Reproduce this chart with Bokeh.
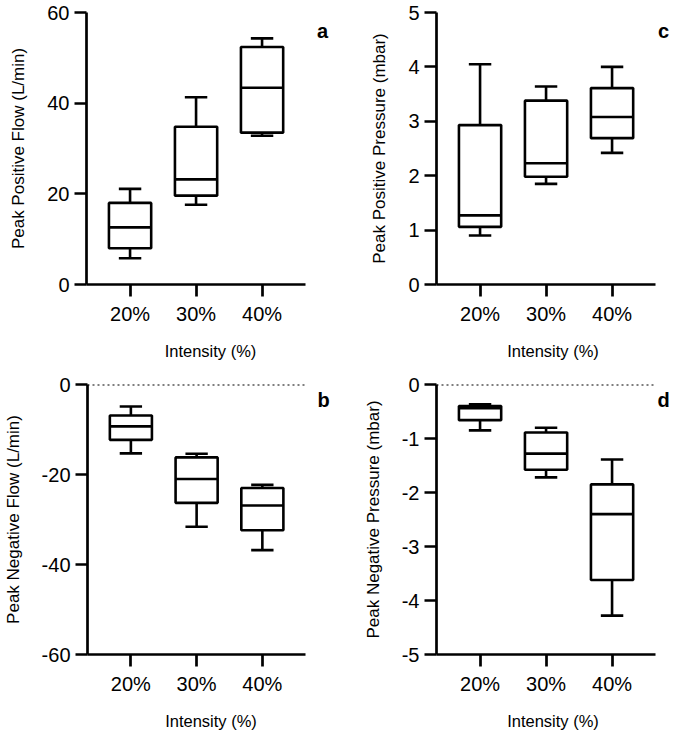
from bokeh.plotting import figure
from bokeh.models import Range1d, FixedTicker, ColumnDataSource, Label
from bokeh.transform import dodge
from bokeh.layouts import column, row
from bokeh.embed import file_html
from bokeh.resources import INLINE

categories = ["20%", "30%", "40%"]

# Panel a: Peak Positive Flow (L/min)
a_min = [5.8, 17.6, 32.8]
a_q1 = [8.0, 19.6, 33.5]
a_med = [12.6, 23.2, 43.4]
a_q3 = [18.0, 34.8, 52.4]
a_max = [21.1, 41.3, 54.3]

# Panel c: Peak Positive Pressure (mbar)
c_min = [0.90, 1.85, 2.42]
c_q1 = [1.06, 1.98, 2.69]
c_med = [1.27, 2.23, 3.08]
c_q3 = [2.93, 3.38, 3.61]
c_max = [4.05, 3.64, 4.00]

# Panel b: Peak Negative Flow (L/min)
b_min = [-15.3, -31.6, -36.8]
b_q1 = [-12.3, -26.3, -32.4]
b_med = [-9.3, -21.0, -26.9]
b_q3 = [-6.9, -16.2, -23.0]
b_max = [-4.9, -15.4, -22.3]

# Panel d: Peak Negative Pressure (mbar)
d_min = [-0.85, -1.72, -4.28]
d_q1 = [-0.66, -1.58, -3.62]
d_med = [-0.44, -1.28, -2.40]
d_q3 = [-0.40, -0.89, -1.85]
d_max = [-0.365, -0.80, -1.39]

FONT = "Liberation Sans"
LW = 2.6
BOX_W = 0.64
CAP = 0.17
PAD = 0.66           # x padding left of the first category (in category units)
PX_PER_CAT = 66.0    # pixels per category step
AXIS_LEN_PX = 219    # length of the drawn x axis line


def make_panel(mins, q1, med, q3, maxs, y0, y1, ticks, ylabel, letter,
               width, height, border_left, border_top, border_bottom,
               letter_x, zero_line=False):
    pos = list(range(len(categories)))
    frame_w = width - border_left
    x_start = -PAD
    x_end = x_start + frame_w / PX_PER_CAT
    axis_end = x_start + AXIS_LEN_PX / PX_PER_CAT
    frame_h = height - border_top - border_bottom

    p = figure(width=width, height=height, output_backend="svg", toolbar_location=None,
               x_range=Range1d(x_start, x_end), y_range=Range1d(y0, y1),
               min_border_left=border_left, min_border_right=0,
               min_border_top=border_top, min_border_bottom=border_bottom)
    p.outline_line_color = None
    p.xgrid.visible = False
    p.ygrid.visible = False
    p.background_fill_color = "white"
    p.border_fill_color = "white"

    for ax in (p.xaxis[0], p.yaxis[0]):
        ax.axis_line_width = 2.7
        ax.axis_line_color = "black"
        ax.major_tick_line_width = 2.7
        ax.major_tick_line_color = "black"
        ax.major_tick_out = 12
        ax.major_tick_in = 0
        ax.minor_tick_line_color = None
        ax.major_label_text_font = FONT
        ax.major_label_text_font_size = "20px"
        ax.major_label_text_color = "black"
        ax.axis_label_text_font = FONT
        ax.axis_label_text_font_style = "normal"
        ax.axis_label_text_color = "black"

    p.xaxis.bounds = (x_start, axis_end)
    p.xaxis.ticker = FixedTicker(ticks=pos)
    p.xaxis.major_label_overrides = {i: c for i, c in zip(pos, categories)}
    p.xaxis.major_label_standoff = 6
    p.xaxis.axis_label = "Intensity (%)"
    p.xaxis.axis_label_text_font_size = "16.5px"
    p.xaxis.axis_label_standoff = 14

    p.yaxis.ticker = FixedTicker(ticks=ticks)
    p.yaxis.major_label_overrides = {t: str(t) for t in ticks}
    p.yaxis.major_label_standoff = 5
    p.yaxis.axis_label = ylabel
    p.yaxis.axis_label_text_font_size = "17px"
    p.yaxis.axis_label_standoff = 16

    if zero_line:
        p.segment(x0=[x_start], x1=[axis_end], y0=[0], y1=[0], line_color="black",
                  line_width=2, line_dash="2 3")

    src = ColumnDataSource(dict(x=pos, lo=mins, q1=q1, med=med, q3=q3, hi=maxs))
    # whiskers
    p.segment(x0="x", x1="x", y0="q3", y1="hi", source=src, line_color="black", line_width=LW)
    p.segment(x0="x", x1="x", y0="lo", y1="q1", source=src, line_color="black", line_width=LW)
    # caps
    for col in ("hi", "lo"):
        p.segment(x0=dodge("x", -CAP), x1=dodge("x", CAP),
                  y0=col, y1=col, source=src, line_color="black", line_width=LW)
    # box
    p.vbar(x="x", bottom="q1", top="q3", width=BOX_W, source=src,
           fill_color="white", line_color="black", line_width=LW)
    # median
    p.segment(x0=dodge("x", -BOX_W / 2), x1=dodge("x", BOX_W / 2),
              y0="med", y1="med", source=src, line_color="black", line_width=LW)

    p.add_layout(Label(x=letter_x, y=frame_h - 18, x_units="screen", y_units="screen", text=letter,
                       text_font=FONT, text_font_style="bold", text_font_size="20px",
                       text_align="center", text_baseline="middle", text_color="black"))
    return p


pa = make_panel(a_min, a_q1, a_med, a_q3, a_max, 0, 60, [0, 20, 40, 60],
                "Peak Positive Flow (L/min)", "a", 334, 372, 86, 12, 88, 236)
pc = make_panel(c_min, c_q1, c_med, c_q3, c_max, 0, 5, [0, 1, 2, 3, 4, 5],
                "Peak Positive Pressure (mbar)", "c", 335, 372, 102, 12, 88, 227)
pb = make_panel(b_min, b_q1, b_med, b_q3, b_max, -60, 0, [-60, -40, -20, 0],
                "Peak Negative Flow (L/min)", "b", 334, 360, 86, 12, 75, 236, zero_line=True)
pd_ = make_panel(d_min, d_q1, d_med, d_q3, d_max, -5, 0, [-5, -4, -3, -2, -1, 0],
                 "Peak Negative Pressure (mbar)", "d", 335, 360, 102, 12, 75, 227, zero_line=True)

layout = column(row(pa, pc), row(pb, pd_))
open("out.html", "w").write(file_html(layout, INLINE))
